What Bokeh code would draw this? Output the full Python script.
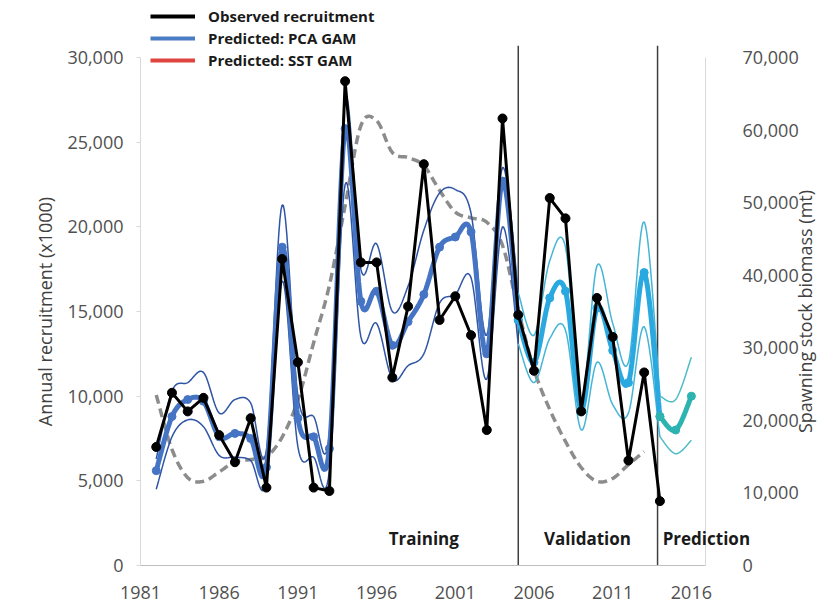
import numpy as np
from bokeh.plotting import figure
from bokeh.models import (Range1d, LinearAxis, FixedTicker, NumeralTickFormatter,
                          Legend, LegendItem, Label)
from bokeh.embed import file_html
from bokeh.resources import INLINE

# ---------------- data ----------------
obs_years = list(range(1982, 2015))
observed = [7000, 10200, 9100, 9900, 7700, 6100, 8700, 4600, 18100, 12000, 4600, 4400,
            28600, 17900, 17900, 11100, 15300, 23700, 14500, 15900, 13600, 8000, 26400,
            14800, 11500, 21700, 20500, 9100, 15800, 13500, 6200, 11400, 3800]

ssb_years = list(range(1982, 2014))
ssb = [23500, 16000, 12100, 11600, 12900, 14300, 14600, 15000, 17700, 22800, 30700, 38600,
       49600, 60600, 61300, 56900, 56200, 55100, 51700, 48700, 47900, 47300, 44100, 35200,
       27000, 21500, 17100, 13500, 11600, 12000, 13900, 15700]

train_years = list(range(1982, 2006))
train_mean = [5600, 8800, 9800, 9700, 7600, 7800, 7500, 5800, 18800, 8700, 7600, 6900,
              25800, 15600, 16200, 13000, 14400, 16000, 18800, 19400, 19700, 12500, 22700, 14500]
train_upper = [6300, 10300, 10800, 11400, 9000, 9800, 9600, 6800, 21300, 10000, 8800, 7800,
               27500, 17500, 19000, 15000, 16500, 19800, 22000, 22200, 20800, 13600, 23500, 16100]
train_lower = [4500, 7600, 8600, 8200, 6500, 6400, 6200, 5000, 16800, 7000, 6400, 5600,
               22500, 13500, 14300, 11000, 11800, 12500, 15500, 16000, 17000, 11000, 20000, 13100]

valid_years = list(range(2005, 2015))
valid_mean = [14500, 12000, 15800, 16200, 9200, 15200, 12700, 10800, 17300, 8800]
valid_upper = [16100, 13600, 18000, 18800, 9800, 17700, 14300, 12000, 20300, 10000]
valid_lower = [13100, 10800, 13400, 13900, 8000, 12000, 9500, 9000, 14100, 7600]

pred_years = [2014, 2015, 2016]
pred_mean = [8800, 8000, 10000]
pred_upper = [10000, 9800, 12300]
pred_lower = [7600, 6600, 7400]

period_bounds = [2005, 2013.85]
period_names = ["Training", "Validation", "Prediction"]
period_label_x = [1999.0, 2009.4, 2016.95]

x_ticks = [1981, 1986, 1991, 1996, 2001, 2006, 2011, 2016]
y_ticks = [0, 5000, 10000, 15000, 20000, 25000, 30000]
y2_ticks = [0, 10000, 20000, 30000, 40000, 50000, 60000, 70000]

# axis extents (data units)
X_START, X_END = 1981, 2016.9
Y_END, Y2_END = 30000, 70000

# ---------------- helpers ----------------
def smooth(xs, ys, n=14):
    xs = np.asarray(xs, float); ys = np.asarray(ys, float)
    m = len(xs)
    ox, oy = [], []
    for i in range(m - 1):
        i0 = max(i - 1, 0); i3 = min(i + 2, m - 1)
        p0 = np.array([xs[i0], ys[i0]]); p1 = np.array([xs[i], ys[i]])
        p2 = np.array([xs[i + 1], ys[i + 1]]); p3 = np.array([xs[i3], ys[i3]])
        c1 = p1 + (p2 - p0) / 6.0
        c2 = p2 - (p3 - p1) / 6.0
        for t in np.linspace(0, 1, n, endpoint=False):
            b = ((1 - t) ** 3) * p1 + 3 * ((1 - t) ** 2) * t * c1 + 3 * (1 - t) * t * t * c2 + t ** 3 * p2
            ox.append(b[0]); oy.append(b[1])
    ox.append(xs[-1]); oy.append(ys[-1])
    return ox, oy

FONT = "Open Sans"
PX_PER_YEAR = 15.74
PX_PER_UNIT = 508 / 30000          # vertical scale of the recruitment axis
Y_LO = -40 / PX_PER_UNIT           # frame reaches 40 px below zero (room for tick labels)
Y_HI = 560 / PX_PER_UNIT           # and 560 px above it

p = figure(width=817, height=605,
           x_range=Range1d(X_START - 140 / PX_PER_YEAR, X_START + 677 / PX_PER_YEAR),
           y_range=Range1d(Y_LO, Y_HI),
           output_backend="svg", toolbar_location=None,
           min_border_left=0, min_border_right=0, min_border_top=5, min_border_bottom=0)
p.extra_y_ranges = {"ssb": Range1d(Y_LO * 7 / 3, Y_HI * 7 / 3)}
p.xgrid.visible = False
p.ygrid.visible = False
p.outline_line_color = None
p.background_fill_color = "white"

# x axis, drawn at zero recruitment
xa = p.xaxis[0]
xa.fixed_location = 0
xa.ticker = FixedTicker(ticks=x_ticks)
xa.formatter = NumeralTickFormatter(format="0")
xa.bounds = (X_START, X_END)
xa.axis_line_color = "#bfbfbf"
xa.major_tick_line_color = None
xa.minor_tick_line_color = None
xa.major_label_standoff = 14
xa.major_label_text_font = FONT
xa.major_label_text_font_size = "18px"
xa.major_label_text_color = "#505050"

# left axis, drawn at the start of the year axis
ya = p.yaxis[0]
ya.fixed_location = X_START
ya.ticker = FixedTicker(ticks=y_ticks)
ya.formatter = NumeralTickFormatter(format="0,0")
ya.bounds = (0, Y_END)
ya.axis_line_color = "#d9d9d9"
ya.major_tick_line_color = "#d9d9d9"
ya.major_tick_in = 0
ya.major_tick_out = 4
ya.minor_tick_line_color = None
ya.major_label_standoff = 13
ya.major_label_text_font = FONT
ya.major_label_text_font_size = "18px"
ya.major_label_text_color = "#505050"

# right axis, drawn at the end of the year axis
ra = LinearAxis(y_range_name="ssb", fixed_location=X_END)
ra.ticker = FixedTicker(ticks=y2_ticks)
ra.formatter = NumeralTickFormatter(format="0,0")
ra.bounds = (0, Y2_END)
ra.axis_line_color = "#d9d9d9"
ra.major_tick_line_color = None
ra.major_tick_in = 0
ra.major_tick_out = 19
ra.minor_tick_line_color = None
ra.major_label_standoff = 18
ra.major_label_text_align = "left"
ra.major_label_text_font = FONT
ra.major_label_text_font_size = "18px"
ra.major_label_text_color = "#505050"
p.add_layout(ra, "right")

# axis titles
p.add_layout(Label(x=X_START - 96 / PX_PER_YEAR, y=Y_END / 2, text="Annual recruitment (x1000)",
                   angle=np.pi / 2, text_align="center", text_baseline="middle",
                   text_font=FONT, text_font_size="18px", text_color="#404040"))
p.add_layout(Label(x=X_END + 99 / PX_PER_YEAR, y=Y_END / 2, text="Spawning stock biomass (mt)",
                   angle=np.pi / 2, text_align="center", text_baseline="middle",
                   text_font=FONT, text_font_size="18px", text_color="#404040"))

# SSB dashed line
sx, sy = smooth(ssb_years, ssb)
p.line(sx, sy, y_range_name="ssb", line_color="#8c8c8c", line_width=3.5, line_dash="9 5")

# period separators
p.segment(x0=period_bounds, y0=[0, 0], x1=period_bounds, y1=[30700, 30700],
          line_color="#404040", line_width=1.5)

def fan(years, mean, upper, lower, thick, thin):
    for arr in (upper, lower):
        ux, uy = smooth(years, arr)
        p.line(ux, uy, line_color=thin, line_width=1.5)
    mx, my = smooth(years, mean)
    r = p.line(mx, my, line_color=thick, line_width=5)
    p.scatter(years, mean, size=8, fill_color=thick, line_color=thick)
    return r

fan(train_years, train_mean, train_upper, train_lower, "#4674c4", "#2f55a4")
fan(valid_years, valid_mean, valid_upper, valid_lower, "#2aa8e0", "#45b5d6")
fan(pred_years, pred_mean, pred_upper, pred_lower, "#2db3b0", "#4fbcc8")

# observed
p.line(obs_years, observed, line_color="black", line_width=3)
p.scatter(obs_years, observed, size=9, fill_color="black", line_color="black")

# legend proxies (not visible in the frame)
r_leg_obs = p.line([float("nan")], [float("nan")], line_color="black", line_width=4)
r_leg_pca = p.line([float("nan")], [float("nan")], line_color="#4a7cc4", line_width=4)
r_leg_sst = p.line([float("nan")], [float("nan")], line_color="#e0443e", line_width=4)

legend = Legend(items=[LegendItem(label="Observed recruitment", renderers=[r_leg_obs]),
                       LegendItem(label="Predicted: PCA GAM", renderers=[r_leg_pca]),
                       LegendItem(label="Predicted: SST GAM", renderers=[r_leg_sst])],
                location=(150, 534), padding=0, margin=0, spacing=0,
                label_height=22, glyph_height=22, glyph_width=45, label_standoff=13,
                background_fill_alpha=0, border_line_color=None,
                label_text_font=FONT, label_text_font_style="bold",
                label_text_font_size="15px", label_text_color="#1a1a1a")
p.add_layout(legend)

for name, lx in zip(period_names, period_label_x):
    p.add_layout(Label(x=lx, y=1600, text=name, text_align="center", text_baseline="middle",
                       text_font=FONT, text_font_style="bold", text_font_size="17px",
                       text_color="#1a1a1a"))

open("out.html", "w").write(file_html(p, INLINE))
